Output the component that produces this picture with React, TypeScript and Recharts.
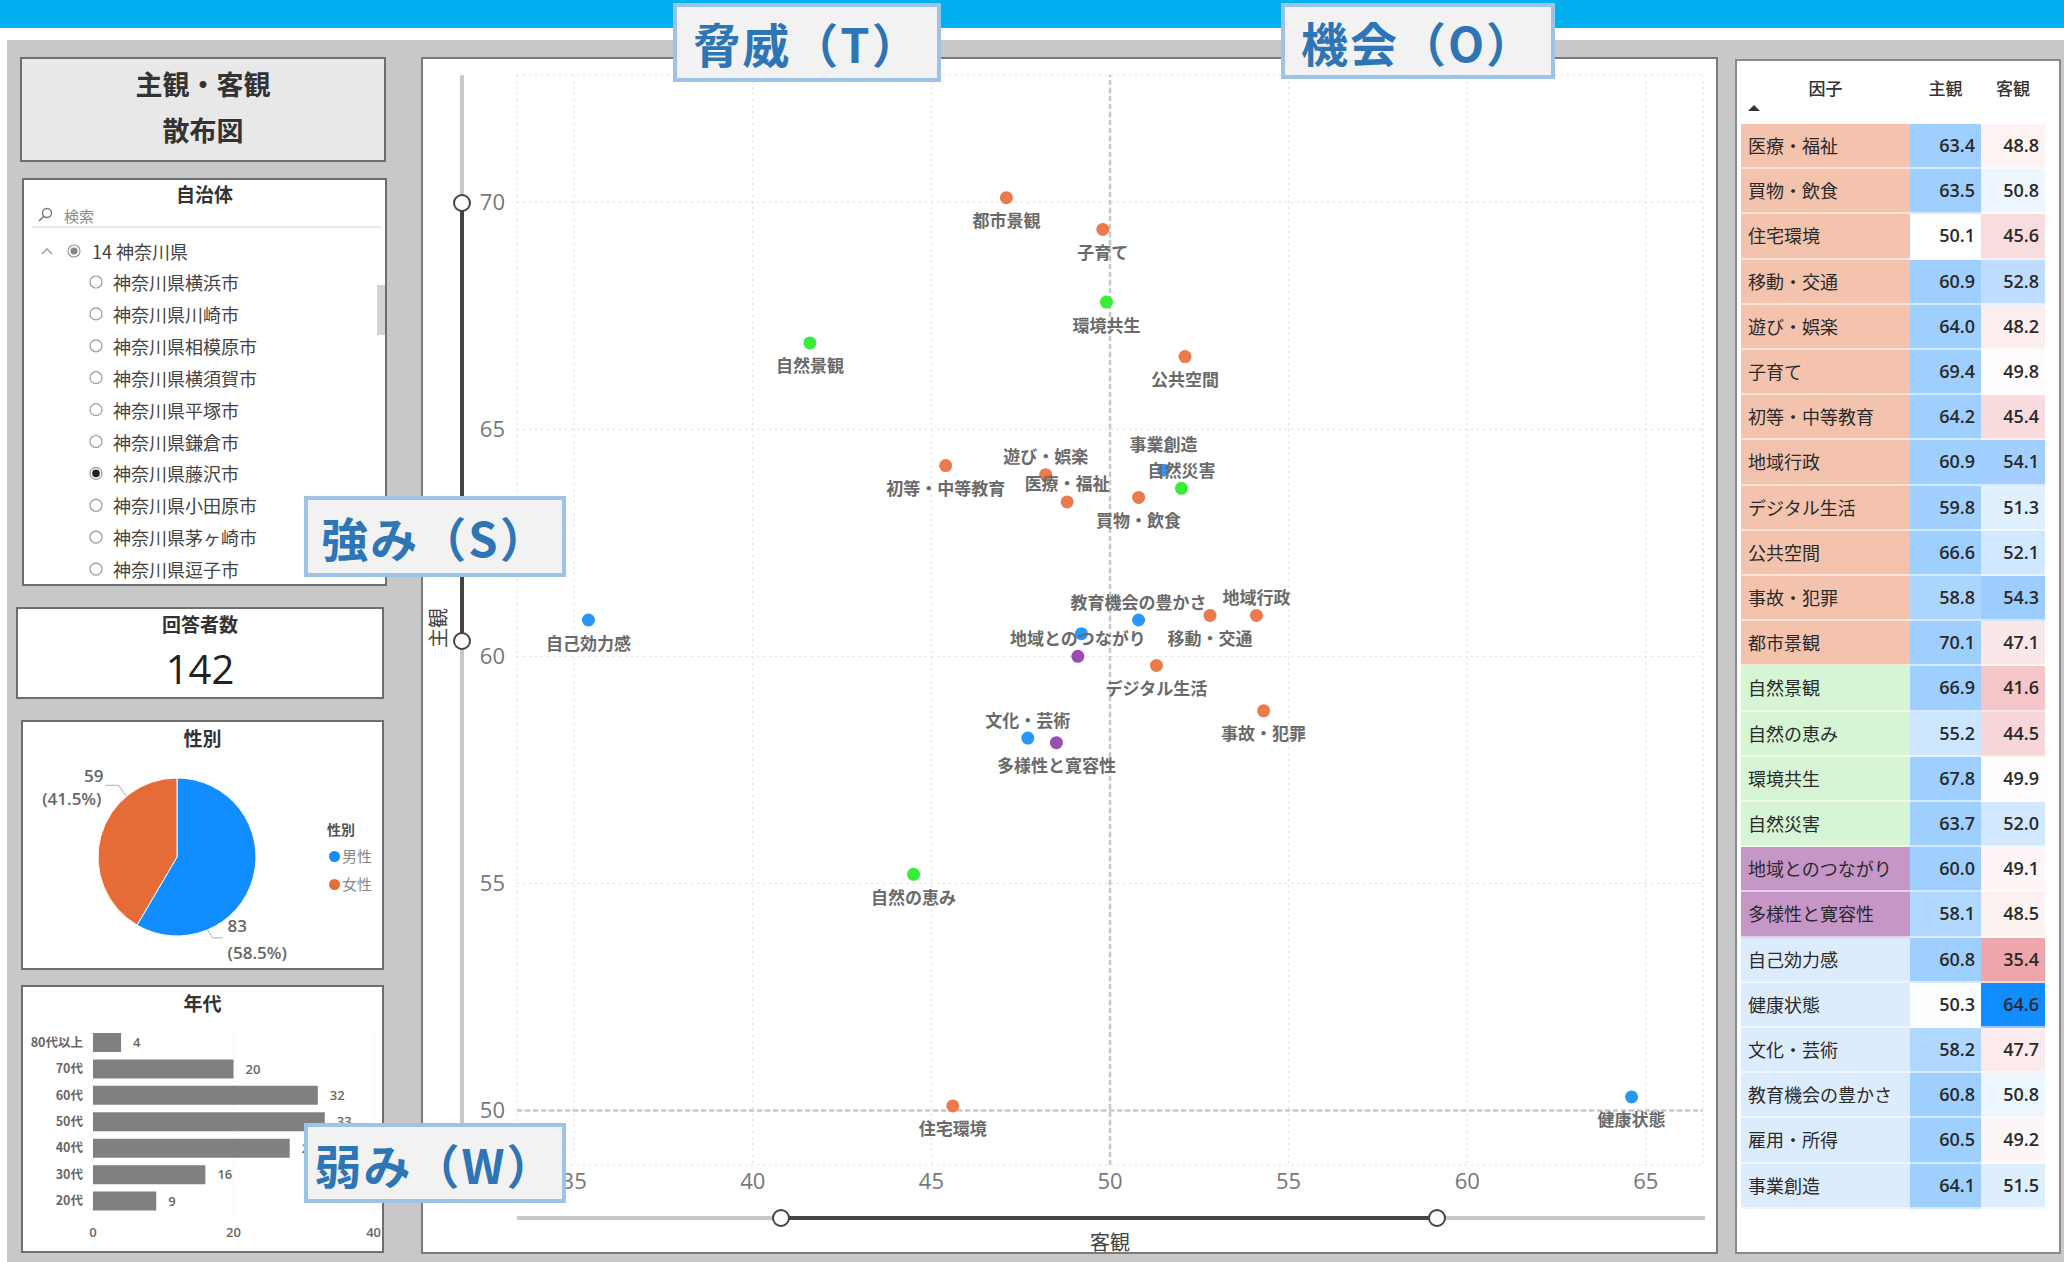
import React from 'react';
import {
  ScatterChart, Scatter, XAxis, YAxis, CartesianGrid, ReferenceLine, LabelList,
  PieChart, Pie, Cell, BarChart, Bar,
} from 'recharts';

// ---------------- data ----------------
const factors = ['医療・福祉', '買物・飲食', '住宅環境', '移動・交通', '遊び・娯楽', '子育て', '初等・中等教育', '地域行政', 'デジタル生活', '公共空間', '事故・犯罪', '都市景観', '自然景観', '自然の恵み', '環境共生', '自然災害', '地域とのつながり', '多様性と寛容性', '自己効力感', '健康状態', '文化・芸術', '教育機会の豊かさ', '雇用・所得', '事業創造'];
const subjective = [63.4, 63.5, 50.1, 60.9, 64.0, 69.4, 64.2, 60.9, 59.8, 66.6, 58.8, 70.1, 66.9, 55.2, 67.8, 63.7, 60.0, 58.1, 60.8, 50.3, 58.2, 60.8, 60.5, 64.1];
const objective = [48.8, 50.8, 45.6, 52.8, 48.2, 49.8, 45.4, 54.1, 51.3, 52.1, 54.3, 47.1, 41.6, 44.5, 49.9, 52.0, 49.1, 48.5, 35.4, 64.6, 47.7, 50.8, 49.2, 51.5];
const factorGroup = [0, 0, 0, 0, 0, 0, 0, 0, 0, 0, 0, 0, 1, 1, 1, 1, 2, 2, 3, 3, 3, 3, 3, 3];

const xTicks = [35, 40, 45, 50, 55, 60, 65];
const yTicks = [50, 55, 60, 65, 70];

const ageBands = ['80代以上', '70代', '60代', '50代', '40代', '30代', '20代'];
const ageCounts = [4, 20, 32, 33, 28, 16, 9];
const ageTicks = [0, 20, 40];

const genders = ['男性', '女性'];
const genderCounts = [83, 59];

const respondents = 142;
const prefecture = '14 神奈川県';
const municipalities = ['神奈川県横浜市', '神奈川県川崎市', '神奈川県相模原市', '神奈川県横須賀市', '神奈川県平塚市', '神奈川県鎌倉市', '神奈川県藤沢市', '神奈川県小田原市', '神奈川県茅ヶ崎市', '神奈川県逗子市'];
const selectedMunicipality = '神奈川県藤沢市';

// ---------------- styles ----------------
const JP = '"Noto Sans CJK JP", "Noto Sans", sans-serif';
const NUM = '"Open Sans", "Noto Sans", sans-serif';
const groupPointColors = ['#EB7B4C', '#36EE36', '#9B4DB0', '#2A96F6'];
const groupCellColors = ['#F4C3AE', '#D5F5D5', '#C696C7', '#DDECFC'];
const genderColors = ['#118DFF', '#E66C37'];
const labelsAbove = ['遊び・娯楽', '医療・福祉', '事業創造', '自然災害', '教育機会の豊かさ', '地域行政', '地域とのつながり', '文化・芸術'];
const labelExtraLift: Record<string, number> = { '事業創造': 8 };
const hiddenLabels = ['雇用・所得'];

const hex = (h: string) => [1, 3, 5].map((i) => parseInt(h.slice(i, i + 2), 16));
const mix = (a: string, b: string, t: number) => {
  const A = hex(a), B = hex(b);
  const tt = Math.max(0, Math.min(1, t));
  return 'rgb(' + A.map((v, i) => Math.round(v + (B[i] - v) * tt)).join(',') + ')';
};
const subjColor = (v: number) => mix('#FFFFFF', '#9FCFFF', (v - 50) / 10);
const objColor = (v: number) => {
  if (v < 50) return mix('#FFFFFF', '#EEA6AA', Math.pow((50 - v) / 14.6, 0.8));
  if (v <= 54.3) return mix('#FFFFFF', '#9DCDFF', (v - 50) / 4.3);
  return mix('#9DCDFF', '#118DFF', (v - 54.3) / 10.3);
};

const abs = (left: number, top: number, width: number, height: number, extra: React.CSSProperties = {}): React.CSSProperties => ({
  position: 'absolute', left, top, width, height, boxSizing: 'border-box', ...extra,
});

const scatterGroups = [0, 1, 2, 3].map((g) =>
  factors
    .map((name, i) => ({ name, x: objective[i], y: subjective[i], g: factorGroup[i] }))
    .filter((d) => d.g === g)
);

const renderPointLabel = (props: any) => {
  const vb = props.viewBox || {};
  const x0 = props.x ?? vb.x ?? 0;
  const y0 = props.y ?? vb.y ?? 0;
  const w = props.width ?? vb.width ?? 0;
  const h = props.height ?? vb.height ?? 0;
  const cx = x0 + w / 2;
  const cy = y0 + h / 2;
  const name = String(props.value);
  if (hiddenLabels.includes(name)) return null;
  const above = labelsAbove.includes(name);
  const lift = labelExtraLift[name] || 0;
  return (
    <text x={cx} y={above ? cy - 19 - lift : cy + 22} textAnchor="middle" dominantBaseline="central"
      fontFamily={JP} fontSize={17} fontWeight={700} fill="#6A6A6A">{name}</text>
  );
};

const renderDot = (color: string) => (props: any) => (
  <circle cx={props.cx} cy={props.cy} r={6.5} fill={color} />
);

const renderYTitle = (props: any) => {
  const vb = props.viewBox || {};
  const x = (vb.x ?? 0) + 14;
  const y = (vb.y ?? 0) + (vb.height ?? 0) / 2 + 8;
  return (
    <text x={x} y={y} transform={`rotate(-90, ${x}, ${y})`} textAnchor="middle" dominantBaseline="central"
      fontSize={20} fill="#444" fontFamily={JP}>主観</text>
  );
};

const RAD = Math.PI / 180;
const renderPieLabel = (props: any) => {
  const { cx, cy, midAngle, outerRadius, value, percent } = props;
  const right = Math.cos(midAngle * RAD) >= 0;
  const edgeAngle = right ? midAngle - 52 : midAngle - 35;
  const ex = cx + outerRadius * Math.cos(edgeAngle * RAD);
  const ey = cy - outerRadius * Math.sin(edgeAngle * RAD);
  const pct = '(' + (percent * 100).toFixed(1) + '%)';
  if (right) {
    const elx = ex + 5, ely = ey + 8;
    return (
      <g>
        <polyline points={`${ex},${ey} ${elx},${ely} ${elx + 10},${ely}`} fill="none" stroke="#AAAAAA" strokeWidth={1} />
        <text x={elx + 15} y={ely - 12} fontFamily={NUM} fontSize={17} fontWeight={600} fill="#666" dominantBaseline="central">{value}</text>
        <text x={elx + 15} y={ely + 15} fontFamily={NUM} fontSize={17} fontWeight={600} fill="#666" dominantBaseline="central">{pct}</text>
      </g>
    );
  }
  const elx = ex - 8, ely = ey - 11;
  return (
    <g>
      <polyline points={`${ex},${ey} ${elx},${ely} ${elx - 13},${ely}`} fill="none" stroke="#AAAAAA" strokeWidth={1} />
      <text x={elx - 15} y={ely - 10} textAnchor="end" fontFamily={NUM} fontSize={17} fontWeight={600} fill="#666" dominantBaseline="central">{value}</text>
      <text x={elx - 17} y={ely + 13} textAnchor="end" fontFamily={NUM} fontSize={17} fontWeight={600} fill="#666" dominantBaseline="central">{pct}</text>
    </g>
  );
};

const genderData = genders.map((name, i) => ({ name, value: genderCounts[i] }));
const ageData = ageBands.map((band, i) => ({ band, count: ageCounts[i] }));

const cardBorder = '2px solid #6E6E6E';

const QuadBox = ({ left, top, width, height, text }: any) => (
  <div style={abs(left, top, width, height, {
    background: '#F2F2F2', border: '4px solid #9DC3E6', color: '#2E75B6', fontFamily: JP,
    fontWeight: 700, fontSize: 47, display: 'flex', alignItems: 'center', justifyContent: 'center', letterSpacing: 2,
    whiteSpace: 'nowrap',
  })}>{text}</div>
);

export default function App() {
  const rowTop = 124;
  const rowH = 45.2;
  return (
    <div style={{ position: 'absolute', left: 0, top: 0, width: 2064, height: 1262, overflow: 'hidden', background: '#FFFFFF', fontFamily: JP }}>
      {/* header band */}
      <div style={abs(0, 0, 2064, 28, { background: '#00B0F0' })} />
      <div style={abs(7, 40, 2057, 1222, { background: '#C8C8C8' })} />

      {/* title */}
      <div style={abs(20, 57, 366, 105, { background: '#E8E8E8', border: cardBorder })} />
      <div style={abs(20, 64, 366, 40, { textAlign: 'center', fontSize: 27, fontWeight: 700, color: '#333', lineHeight: '40px' })}>主観・客観</div>
      <div style={abs(20, 110, 366, 40, { textAlign: 'center', fontSize: 27, fontWeight: 700, color: '#333', lineHeight: '40px' })}>散布図</div>

      {/* slicer */}
      <div style={abs(22, 178, 365, 408, { background: '#FFFFFF', border: cardBorder, overflow: 'hidden' })}>
        <div style={abs(0, 1, 361, 26, { textAlign: 'center', fontSize: 19, fontWeight: 700, color: '#333', lineHeight: '26px' })}>自治体</div>
        <svg style={{ position: 'absolute', left: 0, top: 0 }} width={361} height={404}>
          <circle cx={23} cy={33} r={4.5} fill="none" stroke="#777" strokeWidth={1.4} />
          <line x1={20} y1={36} x2={15} y2={41} stroke="#777" strokeWidth={1.6} />
          <line x1={8} y1={47} x2={358} y2={47} stroke="#E2E2E2" strokeWidth={1.5} />
          <polyline points="18,74 23,69 28,74" fill="none" stroke="#999" strokeWidth={1.3} />
          <circle cx={50} cy={71} r={6} fill="#fff" stroke="#999" strokeWidth={1.2} />
          <circle cx={50} cy={71} r={3.6} fill="#888" />
          {municipalities.map((m, i) => (
            <g key={m}>
              <circle cx={72} cy={102 + i * 31.9} r={6} fill="#fff" stroke="#999" strokeWidth={1.2} />
              {m === selectedMunicipality && <circle cx={72} cy={102 + i * 31.9} r={3.8} fill="#222" />}
            </g>
          ))}
          <rect x={353} y={105} width={8} height={50} fill="#D3D3D3" />
        </svg>
        <div style={abs(40, 24, 100, 24, { fontSize: 15, color: '#888', lineHeight: '24px' })}>検索</div>
        <div style={abs(68, 59, 250, 24, { fontSize: 18, color: '#444', lineHeight: '24px' })}>{prefecture}</div>
        {municipalities.map((m, i) => (
          <div key={m} style={abs(89, 90 + i * 31.9, 250, 24, { fontSize: 18, color: '#444', lineHeight: '24px', whiteSpace: 'nowrap' })}>{m}</div>
        ))}
      </div>

      {/* respondents */}
      <div style={abs(16, 607, 368, 92, { background: '#FFFFFF', border: cardBorder })}>
        <div style={abs(0, 2, 364, 26, { textAlign: 'center', fontSize: 19, fontWeight: 700, color: '#333', lineHeight: '26px' })}>回答者数</div>
        <div style={abs(0, 36, 364, 48, { textAlign: 'center', fontSize: 40, color: '#222', lineHeight: '48px', fontFamily: NUM })}>{respondents}</div>
      </div>

      {/* gender pie */}
      <div style={abs(21, 720, 363, 250, { background: '#FFFFFF', border: cardBorder })}>
        <div style={abs(0, 2, 359, 28, { textAlign: 'center', fontSize: 19, fontWeight: 700, color: '#333', lineHeight: '28px' })}>性別</div>
      </div>
      <div style={{ position: 'absolute', left: 21, top: 720 }}>
        <PieChart width={363} height={250} margin={{ top: 0, right: 0, bottom: 0, left: 0 }}>
          <Pie data={genderData} dataKey="value" nameKey="name" cx={156} cy={137} outerRadius={79}
            startAngle={90} endAngle={-270} stroke="#FFFFFF" strokeWidth={1}
            label={renderPieLabel} labelLine={false} isAnimationActive={false}>
            {genderData.map((d, i) => <Cell key={d.name} fill={genderColors[i]} />)}
          </Pie>
        </PieChart>
      </div>
      <div style={abs(327, 819, 60, 20, { fontSize: 14, fontWeight: 700, color: '#555', lineHeight: '20px' })}>性別</div>
      {genders.map((gname, i) => (
        <div key={gname} style={abs(329, 845 + i * 28, 60, 22, { fontSize: 15, color: '#888', lineHeight: '22px', display: 'flex', alignItems: 'center' })}>
          <span style={{ display: 'inline-block', width: 11, height: 11, borderRadius: 6, background: genderColors[i], marginRight: 2 }} />
          {gname}
        </div>
      ))}

      {/* age bar chart */}
      <div style={abs(21, 985, 363, 268, { background: '#FFFFFF', border: cardBorder })}>
        <div style={abs(0, 2, 359, 28, { textAlign: 'center', fontSize: 19, fontWeight: 700, color: '#333', lineHeight: '28px' })}>年代</div>
      </div>
      <div style={{ position: 'absolute', left: 21, top: 1020 }}>
        <BarChart width={360} height={232} data={ageData} layout="vertical" barSize={19}
          margin={{ top: 9, right: 7, bottom: 10, left: 0 }}>
          <CartesianGrid horizontal={false} stroke="#DDDDDD" strokeDasharray="1 3" />
          <XAxis type="number" domain={[0, 40]} ticks={ageTicks} axisLine={false} tickLine={false}
            tickSize={0} tickMargin={14} height={28}
            tick={{ fontSize: 13, fill: '#666', fontFamily: NUM, fontWeight: 600 }} />
          <YAxis type="category" dataKey="band" width={72} axisLine={false} tickLine={false}
            tickSize={0} tickMargin={10} interval={0}
            tick={{ fontSize: 12.5, fill: '#666', fontFamily: JP, fontWeight: 700 }} />
          <Bar dataKey="count" fill="#808080" isAnimationActive={false}>
            <LabelList dataKey="count" position="right" offset={12}
              style={{ fontSize: 13, fill: '#666', fontFamily: NUM, fontWeight: 600 }} />
          </Bar>
        </BarChart>
      </div>

      {/* scatter panel */}
      <div style={abs(421, 57, 1297, 1197, { background: '#FFFFFF', border: '2px solid #7A7A7A' })} />
      <div style={{ position: 'absolute', left: 423, top: 59 }}>
        <ScatterChart width={1293} height={1203} margin={{ top: 16, right: 13, bottom: 57, left: 0 }}>
          <CartesianGrid stroke="#DCDCDC" strokeDasharray="2 4" />
          <XAxis type="number" dataKey="x" domain={[33.4, 66.6]} ticks={xTicks} axisLine={false} tickLine={false}
            tickSize={0} tickMargin={8} height={40} allowDataOverflow
            tick={{ fill: '#777', fontSize: 22, fontFamily: NUM }}
            label={{ value: '客観', position: 'bottom', offset: 31, style: { fontSize: 20, fill: '#444', fontFamily: JP } }} />
          <YAxis type="number" dataKey="y" domain={[48.8, 72.8]} ticks={yTicks} width={94} axisLine={false} tickLine={false}
            tickSize={0} tickMargin={12} allowDataOverflow
            tick={{ fill: '#777', fontSize: 22, fontFamily: NUM }}
            label={{ value: '主観', content: renderYTitle }} />
          <ReferenceLine x={50} stroke="#C8C8C8" strokeWidth={2.5} strokeDasharray="5 3" />
          <ReferenceLine y={50} stroke="#C8C8C8" strokeWidth={2.5} strokeDasharray="5 3" />
          {scatterGroups.map((data, g) => (
            <Scatter key={g} data={data} shape={renderDot(groupPointColors[g])} isAnimationActive={false}>
              <LabelList dataKey="name" content={renderPointLabel} />
            </Scatter>
          ))}
        </ScatterChart>
      </div>
      {/* re-draw panel bottom border over chart overflow */}
      <div style={abs(421, 1252, 1297, 2, { background: '#7A7A7A' })} />
      <div style={abs(421, 1254, 1297, 8, { background: '#C8C8C8' })} />
      {/* range sliders */}
      <svg style={{ position: 'absolute', left: 0, top: 0, pointerEvents: 'none' }} width={2064} height={1262}>
        <line x1={462} y1={75} x2={462} y2={1165} stroke="#C8C8C8" strokeWidth={4} />
        <line x1={462} y1={203} x2={462} y2={641} stroke="#444" strokeWidth={4} />
        <circle cx={462} cy={203} r={8} fill="#fff" stroke="#444" strokeWidth={2} />
        <circle cx={462} cy={641} r={8} fill="#fff" stroke="#444" strokeWidth={2} />
        <line x1={517} y1={1218} x2={1705} y2={1218} stroke="#C8C8C8" strokeWidth={4} />
        <line x1={781} y1={1218} x2={1437} y2={1218} stroke="#444" strokeWidth={4} />
        <circle cx={781} cy={1218} r={8} fill="#fff" stroke="#444" strokeWidth={2} />
        <circle cx={1437} cy={1218} r={8} fill="#fff" stroke="#444" strokeWidth={2} />
      </svg>

      {/* table */}
      <div style={abs(1735, 59, 326, 1195, { background: '#FFFFFF', border: '2px solid #8A8A8A' })} />
      <div style={abs(1741, 76, 169, 24, { textAlign: 'center', fontSize: 17, color: '#333', lineHeight: '24px', fontWeight: 500 })}>因子</div>
      <div style={abs(1910, 76, 71, 24, { textAlign: 'center', fontSize: 17, color: '#333', lineHeight: '24px', fontWeight: 500 })}>主観</div>
      <div style={abs(1981, 76, 64, 24, { textAlign: 'center', fontSize: 17, color: '#333', lineHeight: '24px', fontWeight: 500 })}>客観</div>
      <svg style={{ position: 'absolute', left: 1747, top: 103 }} width={14} height={10}>
        <polygon points="1,8 7,2 13,8" fill="#333" />
      </svg>
      {factors.map((f, i) => {
        const top = rowTop + i * rowH;
        const rowStyle: React.CSSProperties = { borderBottom: '2px solid rgba(255,255,255,0.55)', lineHeight: (rowH - 2) + 'px', fontSize: 18, color: '#2A2A2A' };
        return (
          <React.Fragment key={f}>
            <div style={abs(1741, top, 169, rowH, { ...rowStyle, background: groupCellColors[factorGroup[i]], paddingLeft: 7, whiteSpace: 'nowrap' })}>{f}</div>
            <div style={abs(1910, top, 71, rowH, { ...rowStyle, background: subjColor(subjective[i]), textAlign: 'right', paddingRight: 6, fontFamily: NUM, fontWeight: 600 })}>{subjective[i].toFixed(1)}</div>
            <div style={abs(1981, top, 64, rowH, { ...rowStyle, background: objColor(objective[i]), textAlign: 'right', paddingRight: 6, fontFamily: NUM, fontWeight: 600 })}>{objective[i].toFixed(1)}</div>
          </React.Fragment>
        );
      })}

      {/* SWOT overlay labels */}
      <QuadBox left={673} top={3} width={268} height={79} text="脅威（T）" />
      <QuadBox left={1281} top={3} width={274} height={76} text="機会（O）" />
      <QuadBox left={304} top={496} width={262} height={81} text="強み（S）" />
      <QuadBox left={304} top={1123} width={262} height={80} text="弱み（W）" />
    </div>
  );
}
